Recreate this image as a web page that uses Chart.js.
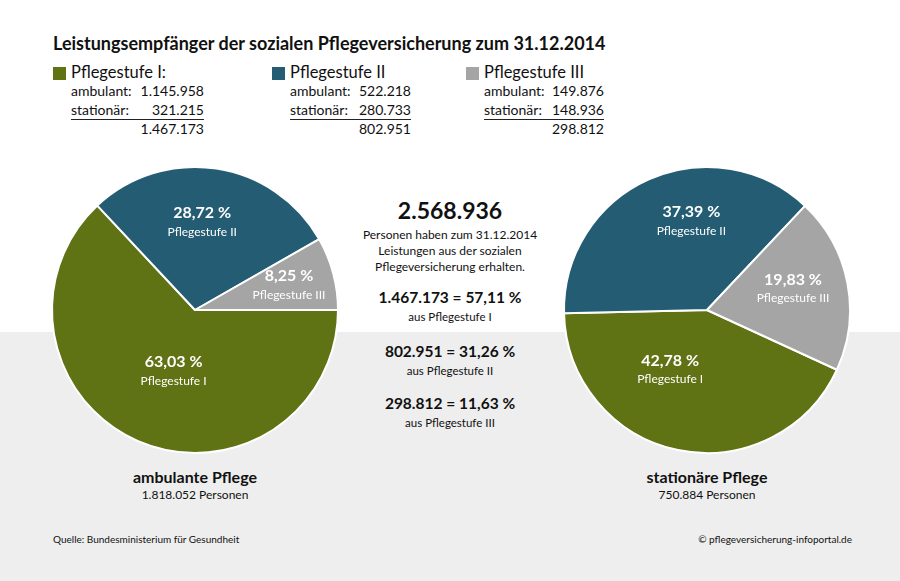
<!DOCTYPE html>
<html>
<head>
<meta charset="utf-8">
<script src="https://cdn.jsdelivr.net/npm/chart.js@4.4.1/dist/chart.umd.min.js"></script>
<style>
  html, body { margin: 0; padding: 0; }
  body { width: 900px; height: 581px; position: relative; overflow: hidden; background: #ffffff; font-family: Lato, "Noto Sans", sans-serif; color: #111; }
  #band { position: absolute; left: 0; top: 332px; width: 900px; height: 249px; background: #eeeeee; }
  .t { position: absolute; white-space: nowrap; }
  #title { left: 53px; top: 32px; font-size: 18px; font-weight: bold; }
  .legend { position: absolute; top: 62px; }
  .legend .head { position: absolute; left: 0; top: 0; font-size: 16.5px; white-space: nowrap; }
  .legend .sq { position: absolute; left: -18px; top: 5px; width: 13px; height: 13px; }
  .legend .row { position: absolute; left: 0; font-size: 14px; white-space: nowrap; }
  .legend .row .v { position: absolute; right: 0; top: 0; }
  .legend .row.ul { border-bottom: 1.3px solid #222; }
  canvas { position: absolute; }
  .center { position: absolute; left: 350px; width: 200px; text-align: center; white-space: nowrap; }
</style>
</head>
<body>
<div id="band"></div>
<div id="title" class="t">Leistungsempfänger der sozialen Pflegeversicherung zum 31.12.2014</div>
<div id="legends"></div>
<canvas id="pieA" width="300" height="300" style="left:45px;top:160px;width:300px;height:300px"></canvas>
<canvas id="pieS" width="300" height="300" style="left:557px;top:160px;width:300px;height:300px"></canvas>
<div id="centerText"></div>
<div id="bottomText"></div>
<script>
// ---- data ----
const categories = ['Pflegestufe I', 'Pflegestufe II', 'Pflegestufe III'];
const ambulant = [1145958, 522218, 149876];
const stationaer = [321215, 280733, 148936];
const pctAmbulant = ['63,03 %', '28,72 %', '8,25 %'];
const pctStationaer = ['42,78 %', '37,39 %', '19,83 %'];
const pctTotal = ['57,11 %', '31,26 %', '11,63 %'];
const colors = ['#5f7314', '#245d73', '#a5a5a5'];

function fmt(n) { return String(n).replace(/\B(?=(\d{3})+(?!\d))/g, '.'); }
const sum = a => a.reduce((s, v) => s + v, 0);
const totals = categories.map((c, i) => ambulant[i] + stationaer[i]);
const grand = sum(totals);

// ---- legend blocks ----
const legendX = [71, 290, 484];
const legendW = [133, 121, 120];
const heads = ['Pflegestufe I:', 'Pflegestufe II', 'Pflegestufe III'];
let lh = '';
categories.forEach((c, i) => {
  lh += `<div class="legend" style="left:${legendX[i]}px;width:${legendW[i]}px">
    <div class="sq" style="background:${colors[i]}"></div>
    <div class="head">${heads[i]}</div>
    <div class="row" style="top:20px;width:${legendW[i]}px">ambulant:<span class="v">${fmt(ambulant[i])}</span></div>
    <div class="row ul" style="top:39px;width:${legendW[i]}px;height:18px">stationär:<span class="v">${fmt(stationaer[i])}</span></div>
    <div class="row" style="top:58px;width:${legendW[i]}px"><span class="v">${fmt(totals[i])}</span>&nbsp;</div>
  </div>`;
});
document.getElementById('legends').innerHTML = lh;

// ---- center text ----
let ct = `<div class="center" style="top:196px;font-size:23px;font-weight:bold">${fmt(grand)}</div>
<div class="center" style="top:227px;font-size:12px;line-height:16px">Personen haben zum 31.12.2014<br>Leistungen aus der sozialen<br>Pflegeversicherung erhalten.</div>`;
const ctTop = [288, 342, 394];
categories.forEach((c, i) => {
  ct += `<div class="center" style="top:${ctTop[i]}px;font-size:15.5px;font-weight:bold">${fmt(totals[i])} = ${pctTotal[i]}</div>
  <div class="center" style="top:${ctTop[i] + 22}px;font-size:11.5px">aus ${c}</div>`;
});
document.getElementById('centerText').innerHTML = ct;

// ---- bottom text ----
document.getElementById('bottomText').innerHTML = `
<div class="t" style="left:95px;width:200px;text-align:center;top:467px;font-size:16px;font-weight:bold">ambulante Pflege</div>
<div class="t" style="left:95px;width:200px;text-align:center;top:487px;font-size:12px">${fmt(sum(ambulant))} Personen</div>
<div class="t" style="left:607px;width:200px;text-align:center;top:467px;font-size:16px;font-weight:bold">stationäre Pflege</div>
<div class="t" style="left:607px;width:200px;text-align:center;top:487px;font-size:12px">${fmt(sum(stationaer))} Personen</div>
<div class="t" style="left:53px;top:533px;font-size:10px">Quelle: Bundesministerium für Gesundheit</div>
<div class="t" style="right:48px;top:533px;font-size:10px">© pflegeversicherung-infoportal.de</div>`;

// ---- slice label plugin ----
const sliceLabels = {
  id: 'sliceLabels',
  afterDatasetsDraw(chart, args, opts) {
    const ctx = chart.ctx;
    const meta = chart.getDatasetMeta(0);
    meta.data.forEach((arc, i) => {
      const p = arc.getProps(['x', 'y', 'startAngle', 'endAngle', 'outerRadius'], true);
      const mid = (p.startAngle + p.endAngle) / 2 + (opts.angleShift[i] || 0) * Math.PI / 180;
      const r = p.outerRadius * opts.radius[i];
      const cx = p.x + Math.cos(mid) * r;
      const cy = p.y + Math.sin(mid) * r;
      ctx.save();
      ctx.fillStyle = '#ffffff';
      ctx.textAlign = 'center';
      ctx.textBaseline = 'middle';
      ctx.font = 'bold 16px Lato';
      ctx.fillText(opts.pct[i], cx, cy - 9);
      ctx.font = '12px Lato';
      ctx.fillText(categories[i], cx, cy + 10);
      ctx.restore();
    });
  }
};

function makePie(id, values, rotation, pct, radius, angleShift) {
  return new Chart(document.getElementById(id), {
    type: 'pie',
    data: {
      labels: categories,
      datasets: [{ data: values, backgroundColor: colors, borderColor: '#ffffff', borderWidth: 2 }]
    },
    options: {
      responsive: false,
      animation: false,
      rotation: rotation,
      radius: 143,
      layout: { padding: 0 },
      plugins: {
        legend: { display: false },
        tooltip: { enabled: false },
        sliceLabels: { pct: pct, radius: radius, angleShift: angleShift }
      }
    },
    plugins: [sliceLabels]
  });
}

makePie('pieA', ambulant, 90, pctAmbulant, [0.45, 0.62, 0.68], [-4, -4, 0]);
makePie('pieS', stationaer, 114.7, pctStationaer, [0.49, 0.63, 0.62], [20, 14, -3]);
</script>
</body>
</html>
